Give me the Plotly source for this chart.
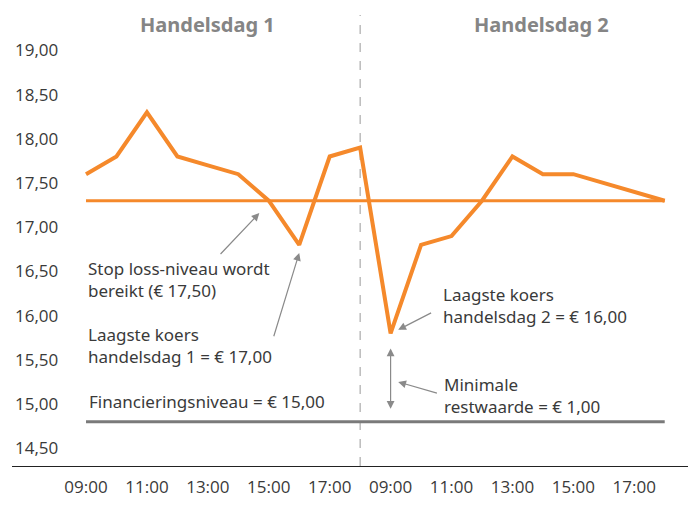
import plotly.graph_objects as go

# ---- data ----
hours = ["09:00", "10:00", "11:00", "12:00", "13:00", "14:00", "15:00", "16:00", "17:00", "18:00"]
days = ["Handelsdag 1", "Handelsdag 2"]
koers = [17.6, 17.8, 18.3, 17.8, 17.7, 17.6, 17.3, 16.8, 17.8, 17.9,
         15.8, 16.8, 16.9, 17.3, 17.8, 17.6, 17.6, 17.5, 17.4, 17.3]
stop_loss = [17.3] * 20
financiering = [14.8] * 20
y_ticks = [14.5, 15.0, 15.5, 16.0, 16.5, 17.0, 17.5, 18.0, 18.5, 19.0]
y_ticklabels = ["14,50", "15,00", "15,50", "16,00", "16,50", "17,00", "17,50", "18,00", "18,50", "19,00"]
x_idx = list(range(len(koers)))
x_tickvals = [0, 2, 4, 6, 8, 10, 12, 14, 16, 18]
x_ticklabels = [hours[i % 10] for i in x_tickvals]

ORANGE = "#F5892B"
GRAY = "#7a7a7a"
ARROW = "#8a8a8a"
TXT = "#3a3a3a"
FONT = "Noto Sans"

fig = go.Figure()
fig.add_trace(go.Scatter(x=x_idx, y=financiering, mode="lines",
                         line=dict(color=GRAY, width=3), hoverinfo="skip"))
fig.add_trace(go.Scatter(x=x_idx, y=stop_loss, mode="lines",
                         line=dict(color=ORANGE, width=3), hoverinfo="skip"))
fig.add_trace(go.Scatter(x=x_idx, y=koers, mode="lines",
                         line=dict(color=ORANGE, width=4, shape="linear"),
                         hoverinfo="skip"))

# day separator
fig.add_shape(type="line", x0=9, x1=9, xref="x", y0=0, y1=1, yref="paper",
              line=dict(color="#9a9a9a", width=1, dash="dash"), layer="below")

# day headers
for xpos, label in zip([4.0, 14.95], days):
    fig.add_annotation(x=xpos, y=1, xref="x", yref="paper", yanchor="middle",
                       yshift=-9, text="<b>" + label + "</b>", showarrow=False,
                       font=dict(family=FONT, size=20, color="#858585"))

# text notes
notes = [
    (0.0, 16.41, "Stop loss-niveau wordt<br>bereikt (€ 17,50)"),
    (0.0, 15.66, "Laagste koers<br>handelsdag 1 = € 17,00"),
    (11.66, 16.11, "Laagste koers<br>handelsdag 2 = € 16,00"),
    (11.70, 15.10, "Minimale<br>restwaarde = € 1,00"),
    (0.02, 15.03, "Financieringsniveau = € 15,00"),
]
for xn, yn, t in notes:
    fig.add_annotation(x=xn, y=yn, xref="x", yref="y", xanchor="left", yanchor="middle",
                       align="left", text=t, showarrow=False,
                       font=dict(family=FONT, size=17, color=TXT))

# arrows: (tail x, tail y, head x, head y)
arrows = [
    (4.37, 16.68, 5.69, 17.16),
    (6.15, 15.75, 7.00, 16.71),
    (11.38, 16.04, 10.25, 15.84),
    (11.57, 15.12, 10.25, 15.25),
]
for tx, ty, hx, hy in arrows:
    fig.add_annotation(x=hx, y=hy, ax=tx, ay=ty, xref="x", yref="y", axref="x", ayref="y",
                       text="", showarrow=True, arrowhead=2, arrowsize=1.3,
                       arrowwidth=1.2, arrowcolor=ARROW, standoff=0, startstandoff=0)
# double arrow (minimale restwaarde)
fig.add_annotation(x=10.0, y=15.63, ax=10.0, ay=14.93, xref="x", yref="y", axref="x", ayref="y",
                   text="", showarrow=True, arrowhead=2, startarrowhead=2, arrowside="end+start",
                   arrowsize=1.3, startarrowsize=1.3, arrowwidth=1.2, arrowcolor=ARROW)

fig.update_layout(
    width=688, height=497,
    margin=dict(l=4, r=6, t=7, b=39, autoexpand=False),
    plot_bgcolor="white", paper_bgcolor="white",
    showlegend=False,
    font=dict(family=FONT, color=TXT),
    xaxis=dict(range=[-2.43, 19.83], tickvals=x_tickvals, ticktext=x_ticklabels,
               showgrid=False, zeroline=False, showline=True, linecolor="#222",
               linewidth=1, ticks="", ticklabelstandoff=6, automargin=False,
               tickfont=dict(family="Open Sans", size=17, color=TXT)),
    yaxis=dict(range=[14.30, 19.40], tickvals=y_ticks, ticktext=y_ticklabels,
               showgrid=False, zeroline=False, showline=False, ticks="",
               ticklabelposition="inside", automargin=False,
               tickfont=dict(family="Open Sans", size=17, color=TXT)),
)

fig.write_html("out.html")
